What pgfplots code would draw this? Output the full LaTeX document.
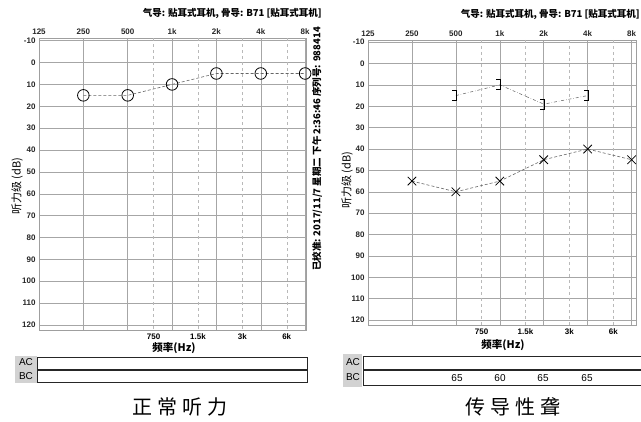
\documentclass[border=0pt]{standalone}
\usepackage{fontspec}
\usepackage{pgfplots}
\pgfplotsset{compat=1.18}
\setmainfont{Liberation Sans}
\newfontfamily\cjk{Noto Sans CJK SC}

\pgfdeclareplotmark{rbr}{%
  \pgfpathmoveto{\pgfpoint{-0.7\pgfplotmarksize}{\pgfplotmarksize}}%
  \pgfpathlineto{\pgfpoint{0.2\pgfplotmarksize}{\pgfplotmarksize}}%
  \pgfpathlineto{\pgfpoint{0.2\pgfplotmarksize}{-\pgfplotmarksize}}%
  \pgfpathlineto{\pgfpoint{-0.7\pgfplotmarksize}{-\pgfplotmarksize}}%
  \pgfusepathqstroke}

\pgfplotsset{
  audiogram/.style={
    scale only axis, clip=false,
    y dir=reverse,
    xmin=0, ymin=-11, ymax=122.3,
    xtick={0,...,6}, xticklabels={125,250,500,1k,2k,4k,8k},
    xticklabel pos=upper,
    ytick={-10,0,...,120},
    grid=major,
    major grid style={gray!70, line width=0.5pt},
    extra x ticks={2.585,3.585,4.585,5.585},
    extra x tick labels={},
    extra x tick style={grid=major, major grid style={gray!55, dashed, line width=0.4pt}},
    axis line style={gray!75, line width=0.6pt},
    tick style={draw=none},
    ticklabel style={font=\fontsize{8}{9}\selectfont\bfseries, text=black!85},
    /pgf/number format/assume math mode=true,
  }
}

\begin{document}
\begin{tikzpicture}[x=1pt,y=1pt]
\path[use as bounding box] (0pt,0pt) rectangle (641pt,422pt);

% ---------------- left audiogram ----------------
\begin{axis}[audiogram, at={(39pt,92pt)}, anchor=south west,
  width=267pt, height=291.5pt, xmax=6.02]
  \addplot[gray!80!black, densely dashed, line width=0.6pt,
    mark=o, mark size=5.8pt,
    mark options={solid, black, fill=white, line width=0.8pt}]
    coordinates {(1,15) (2,15) (3,10) (4,5) (5,5) (6,5)};
  \node[font=\fontsize{8}{9}\selectfont\bfseries, anchor=north] at (axis cs:2.585,122.3) {750};
  \node[font=\fontsize{8}{9}\selectfont\bfseries, anchor=north] at (axis cs:3.585,122.3) {1.5k};
  \node[font=\fontsize{8}{9}\selectfont\bfseries, anchor=north] at (axis cs:4.585,122.3) {3k};
  \node[font=\fontsize{8}{9}\selectfont\bfseries, anchor=north] at (axis cs:5.585,122.3) {6k};
\end{axis}

% ---------------- right audiogram ----------------
\begin{axis}[audiogram, at={(368pt,97pt)}, anchor=south west,
  width=268pt, height=285pt, xmax=6.1]
  \addplot[gray!70!black, dashdotted, line width=0.5pt,
    mark=rbr, mark size=5pt,
    mark options={solid, black, line width=0.8pt}]
    coordinates {(2,15) (3,10) (4,19) (5,15)};
  \addplot[gray!80!black, densely dashed, line width=0.6pt,
    mark=x, mark size=6pt,
    mark options={solid, black, line width=0.8pt}]
    coordinates {(1,55) (2,60) (3,55) (4,45) (5,40) (6,45)};
  \node[font=\fontsize{8}{9}\selectfont\bfseries, anchor=north] at (axis cs:2.585,122.3) {750};
  \node[font=\fontsize{8}{9}\selectfont\bfseries, anchor=north] at (axis cs:3.585,122.3) {1.5k};
  \node[font=\fontsize{8}{9}\selectfont\bfseries, anchor=north] at (axis cs:4.585,122.3) {3k};
  \node[font=\fontsize{8}{9}\selectfont\bfseries, anchor=north] at (axis cs:5.585,122.3) {6k};
\end{axis}

% ---------------- titles ----------------
\node[anchor=east, font=\cjk\fontsize{9.5}{10}\selectfont\bfseries, inner sep=0pt] at (322pt,408pt)
  {气导: 贴耳式耳机, 骨导: B71 [贴耳式耳机]};
\node[anchor=east, font=\cjk\fontsize{9.5}{10}\selectfont\bfseries, inner sep=0pt] at (640pt,407pt)
  {气导: 贴耳式耳机, 骨导: B71 [贴耳式耳机]};

% rotated calibration text
\node[rotate=90, font=\cjk\fontsize{9.5}{10}\selectfont\bfseries, inner sep=0pt] at (317pt,273pt)
  {已校准: 2017/11/7 星期二 下午 2:36:46 序列号: 988414};

% y labels
\node[rotate=90, font=\cjk\fontsize{11}{12}\selectfont, inner sep=0pt] at (17pt,236pt) {听力级 (dB)};
\node[rotate=90, font=\cjk\fontsize{11}{12}\selectfont, inner sep=0pt] at (347pt,242pt) {听力级 (dB)};

% x labels
\node[font=\cjk\fontsize{10.5}{11}\selectfont\bfseries, inner sep=0pt] at (174pt,74pt) {频率(Hz)};
\node[font=\cjk\fontsize{10.5}{11}\selectfont\bfseries, inner sep=0pt] at (503pt,77pt) {频率(Hz)};

% ---------------- AC / BC tables ----------------
\fill[gray!35] (15pt,39pt) rectangle (37pt,66pt);
\node[font=\fontsize{10}{11}\selectfont] at (26pt,60pt) {AC};
\node[font=\fontsize{10}{11}\selectfont] at (26pt,46pt) {BC};
\draw[black!85, line width=0.9pt] (37pt,53pt) rectangle (307pt,65pt);
\draw[black!85, line width=0.9pt] (37pt,40pt) rectangle (307pt,52pt);

\fill[gray!35] (343pt,35pt) rectangle (362pt,68pt);
\node[font=\fontsize{10}{11}\selectfont] at (353pt,60pt) {AC};
\node[font=\fontsize{10}{11}\selectfont] at (353pt,45pt) {BC};
\draw[black!85, line width=0.9pt] (363pt,53pt) rectangle (650pt,66pt);
\draw[black!85, line width=0.9pt] (363pt,37pt) rectangle (650pt,52pt);
\node[font=\fontsize{10}{11}\selectfont] at (457pt,44pt) {65};
\node[font=\fontsize{10}{11}\selectfont] at (500pt,44pt) {60};
\node[font=\fontsize{10}{11}\selectfont] at (543pt,44pt) {65};
\node[font=\fontsize{10}{11}\selectfont] at (587pt,44pt) {65};

% ---------------- captions ----------------
\node[font=\cjk\fontsize{20}{22}\selectfont] at (180pt,15pt) {正\hspace{5pt}常\hspace{5pt}听\hspace{5pt}力};
\node[font=\cjk\fontsize{20}{22}\selectfont] at (513pt,15pt) {传\hspace{5pt}导\hspace{5pt}性\hspace{5pt}聋};
\end{tikzpicture}
\end{document}
